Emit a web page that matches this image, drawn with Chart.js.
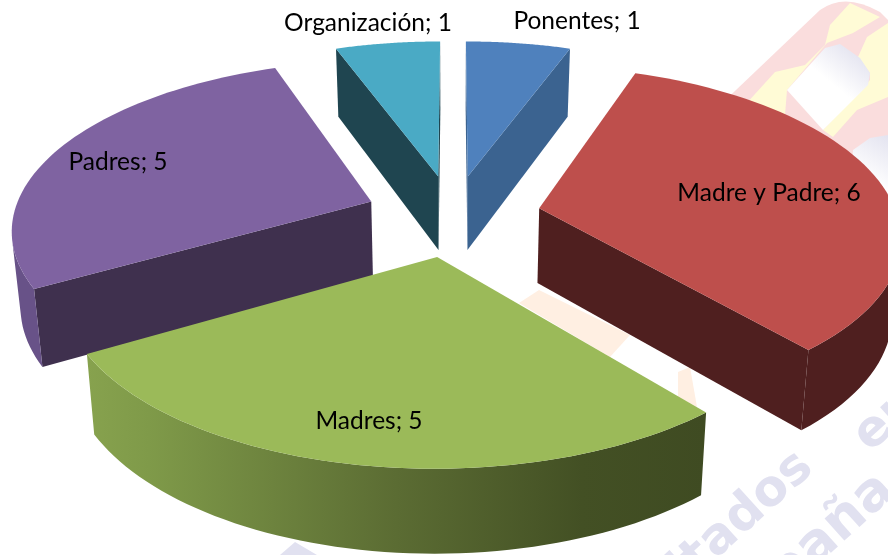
<!DOCTYPE html>
<html lang="es">
<head>
<meta charset="utf-8">
<title>Gráfico circular 3D</title>
<style>html,body{margin:0;padding:0;background:#fff}canvas{display:block}</style>
<script src="https://cdn.jsdelivr.net/npm/chart.js@4/dist/chart.umd.min.js"></script>
</head>
<body>
<canvas id="c" width="888" height="555"></canvas>
<script>
const categories = ["Ponentes", "Madre y Padre", "Madres", "Padres", "Organización"];
const values = [1, 6, 5, 5, 1];
const topColors = ["#4F81BD", "#BE4F4C", "#9BBA59", "#7F63A1", "#4AAAC5"];
const wallColors = ["#3B6390", "#4F1F1F", "#3F4C23", "#3F304E", "#1F4550"];
const outerColors = ["#3B6390", "#4F1F1F", null, "#685288", "#1F4550"];

const VIEW = {cx:453, cy:215.3, b:358, a:166, p:0.15, depth:75, shrink:0.98};
const PAINT_ORDER = [4, 0, 3, 1, 2];
const LABEL_AT = [[577,21],[769,193],[369,421],[118,162],[368,23]];

function project(u, v, bottom) {
  const s = 1 / (1 - VIEW.p * v);
  let x = VIEW.b * u * s, y = VIEW.a * v * s;
  if (bottom) { x *= VIEW.shrink; y += VIEW.depth * Math.pow(s, 0.6); }
  return [VIEW.cx + x, VIEW.cy + y];
}
function poly(ctx, pts, fill) {
  ctx.beginPath();
  pts.forEach((p, i) => i ? ctx.lineTo(p[0], p[1]) : ctx.moveTo(p[0], p[1]));
  ctx.closePath();
  ctx.fillStyle = fill; ctx.fill();
}
function area(pts) {
  let s = 0;
  pts.forEach((p, i) => { const q = pts[(i + 1) % pts.length]; s += p[0] * q[1] - q[0] * p[1]; });
  return s / 2;
}
function drawSlice(ctx, el, i) {
  const {startAngle, endAngle, outerRadius} = el.getProps(["startAngle", "endAngle", "outerRadius"], true);
  const e = el.options.offset / outerRadius;
  const mid = (startAngle + endAngle) / 2;
  const ax = e * Math.cos(mid), ay = e * Math.sin(mid);
  const steps = 60, rim = [];
  for (let k = 0; k <= steps; k++) {
    const t = startAngle + (endAngle - startAngle) * k / steps;
    rim.push([ax + Math.cos(t), ay + Math.sin(t)]);
  }
  const apexT = project(ax, ay, false), apexB = project(ax, ay, true);
  const rimT = rim.map(r => project(r[0], r[1], false));
  const rimB = rim.map(r => project(r[0], r[1], true));

  // radial walls, only when they face the viewer
  [[apexT, rimT[0], rimB[0], apexB], [rimT[steps], apexT, apexB, rimB[steps]]].forEach(q => {
    if (area(q) < 0) poly(ctx, q, wallColors[i]);
  });
  // outer wall: the run of segments that face the viewer
  const fwd = [], back = [];
  for (let k = 0; k < steps; k++) {
    const q = [rimT[k], rimT[k + 1], rimB[k + 1], rimB[k]];
    if (area(q) < 0) {
      if (!fwd.length) { fwd.push(rimT[k]); back.push(rimB[k]); }
      fwd.push(rimT[k + 1]); back.push(rimB[k + 1]);
    }
  }
  if (fwd.length) {
    let fill = outerColors[i];
    if (!fill) {
      const xs = fwd.map(p => p[0]);
      const g = ctx.createLinearGradient(Math.min(...xs), 0, Math.max(...xs), 0);
      g.addColorStop(0, "#87A24E");
      g.addColorStop(0.1, "#7F9A49");
      g.addColorStop(0.5, "#5B6C33");
      g.addColorStop(0.8, "#435024");
      g.addColorStop(1, "#3F4B22");
      fill = g;
    }
    poly(ctx, fwd.concat(back.reverse()), fill);
  }
  poly(ctx, [apexT].concat(rimT), el.options.backgroundColor);
}

const backdrop = {
  id: "backdrop",
  beforeDraw(chart) {
    const ctx = chart.ctx;
    ctx.save();
    ctx.beginPath();
    ctx.moveTo(715,110); ctx.lineTo(820,10);
    ctx.quadraticCurveTo(845,-8,880,12); ctx.lineTo(888,20);
    ctx.lineTo(888,200); ctx.lineTo(760,200); ctx.closePath();
    ctx.fillStyle = "#FADDDD"; ctx.fill();
    poly(ctx, [[745,105],[775,72],[805,65],[825,45],[830,25],[850,3],[880,17],[853,33],[827,43],[787,90],[785,115]], "#FFFBD6");
    poly(ctx, [[888,23],[867,37],[858,57],[870,73],[870,80],[823,130],[833,137],[857,110],[888,97]], "#FFFBD6");
    const g1 = ctx.createLinearGradient(858,52,815,105);
    g1.addColorStop(0, "#E4E4F0"); g1.addColorStop(0.6, "#FFFFFF");
    poly(ctx, [[787,90],[825,48],[840,44],[860,58],[870,73],[868,85],[823,130]], g1);
    const g2 = ctx.createLinearGradient(885,135,860,175);
    g2.addColorStop(0, "#E4E4F0"); g2.addColorStop(1, "#FFFFFF");
    poly(ctx, [[853,150],[870,138],[888,135],[888,200],[850,200]], g2);
    poly(ctx, [[519,303],[539,290],[630,335],[610,357]], "#FFEFE2");
    poly(ctx, [[678,372],[690,367],[697,407],[678,397]], "#FFEFE2");
    poly(ctx, [[280,555],[295,542],[317,555]], "#E1E1F0");
    // watermark lettering
    ctx.fillStyle = "#E1E1F0";
    const ang = -42 * Math.PI / 180;
    ctx.textBaseline = "alphabetic";
    [["Resultados", 815, 470, "right", 50], ["en", 870, 453, "left", 50], ["España", 734, 640, "left", 54]].forEach(w => {
      ctx.save();
      ctx.font = "bold " + w[4] + "px 'DejaVu Sans'";
      ctx.translate(w[1], w[2]);
      ctx.rotate(ang);
      ctx.textAlign = w[3];
      ctx.fillText(w[0], 0, 0);
      ctx.restore();
    });
    ctx.restore();
  }
};
const pie3d = {
  id: "pie3d",
  beforeDatasetDraw(chart, args) {
    const ctx = chart.ctx, arcs = args.meta.data;
    ctx.save();
    PAINT_ORDER.forEach(i => drawSlice(ctx, arcs[i], i));
    ctx.restore();
    return false;
  },
  afterDatasetsDraw(chart) {
    const ctx = chart.ctx;
    ctx.save();
    ctx.font = "24.5px Lato";
    ctx.fillStyle = "#000";
    ctx.textAlign = "center";
    ctx.textBaseline = "middle";
    categories.forEach((c, i) => ctx.fillText(c + "; " + values[i], LABEL_AT[i][0], LABEL_AT[i][1]));
    ctx.restore();
  }
};
new Chart(document.getElementById("c"), {
  type: "pie",
  data: {
    labels: categories,
    datasets: [{
      data: values,
      backgroundColor: topColors,
      borderWidth: 0,
      offset: 60.8
    }]
  },
  options: {
    responsive: false,
    animation: false,
    events: [],
    layout: {padding: 0},
    plugins: {legend: {display: false}, tooltip: {enabled: false}, title: {display: false}}
  },
  plugins: [backdrop, pie3d]
});
</script>
</body>
</html>
